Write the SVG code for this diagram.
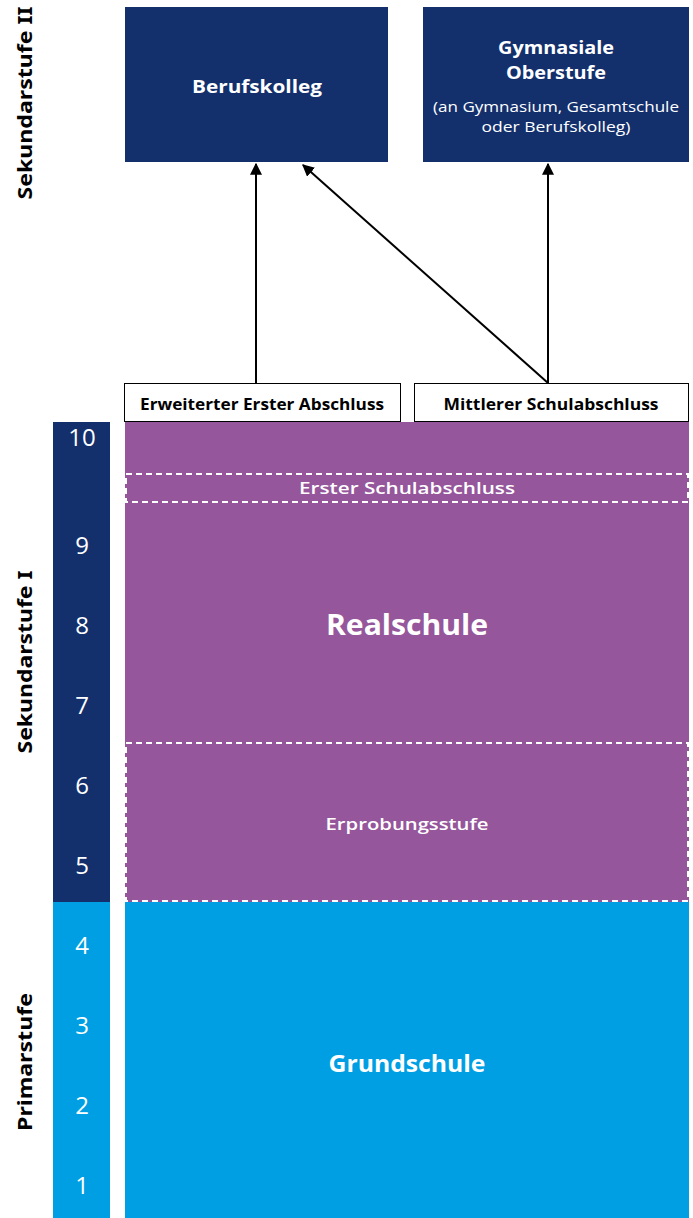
<svg xmlns="http://www.w3.org/2000/svg" width="693" height="1218" viewBox="0 0 693 1218">
<style>
.navy{fill:#13306d}
.purple{fill:#95569b}
.blue{fill:#009fe3}
.t{font-family:"Open Sans","Noto Sans","Liberation Sans",sans-serif;fill:#fff;text-anchor:middle}
.k{fill:#000}
.b{font-weight:bold}
.m{font-weight:600}
.num{font-family:"Open Sans","Liberation Sans",sans-serif;fill:#fff;font-size:24px;font-weight:400;text-anchor:middle}
.side{font-family:"Noto Sans","Liberation Sans",sans-serif;font-weight:bold;font-size:20px;fill:#000;text-anchor:middle}
.dash{fill:none;stroke:#fff;stroke-width:2;stroke-dasharray:6 4}
.abs{fill:#fff;stroke:#000;stroke-width:1}
.conn{stroke:#000;stroke-width:2;fill:none;marker-end:url(#ah)}
</style>
<defs>
<marker id="ah" viewBox="0 0 10 10" refX="9" refY="5" markerWidth="6" markerHeight="6" markerUnits="strokeWidth" orient="auto">
<path d="M0,0 L10,5 L0,10 z" fill="#000"/>
</marker>
</defs>
<g id="side-labels">
<text class="side" transform="translate(32,103) rotate(-90)" textLength="193" lengthAdjust="spacingAndGlyphs">Sekundarstufe II</text>
<text class="side" transform="translate(32,662) rotate(-90)" textLength="183" lengthAdjust="spacingAndGlyphs">Sekundarstufe I</text>
<text class="side" transform="translate(32,1062) rotate(-90)" textLength="138" lengthAdjust="spacingAndGlyphs">Primarstufe</text>
</g>
<g id="grade-bar">
<rect class="navy" x="53" y="422" width="57" height="480"/>
<rect class="blue" x="53" y="902" width="57" height="316"/>
<text class="num" x="82" y="446">10</text>
<text class="num" x="82" y="554">9</text>
<text class="num" x="82" y="634">8</text>
<text class="num" x="82" y="714">7</text>
<text class="num" x="82" y="794">6</text>
<text class="num" x="82" y="874">5</text>
<text class="num" x="82" y="954">4</text>
<text class="num" x="82" y="1034">3</text>
<text class="num" x="82" y="1114">2</text>
<text class="num" x="82" y="1194">1</text>
</g>
<g id="berufskolleg">
<rect class="navy" x="125" y="7" width="263" height="155"/>
<text class="t b" x="257" y="93" font-size="18" textLength="130" lengthAdjust="spacingAndGlyphs">Berufskolleg</text>
</g>
<g id="gymnasiale-oberstufe">
<rect class="navy" x="423" y="7" width="266" height="155"/>
<text class="t b" x="556" y="54" font-size="18" textLength="116" lengthAdjust="spacingAndGlyphs">Gymnasiale</text>
<text class="t b" x="556" y="79" font-size="18" textLength="100" lengthAdjust="spacingAndGlyphs">Oberstufe</text>
<text class="t" x="556" y="112" font-size="15" textLength="246" lengthAdjust="spacingAndGlyphs">(an Gymnasium, Gesamtschule</text>
<text class="t" x="556" y="132" font-size="15" textLength="149" lengthAdjust="spacingAndGlyphs">oder Berufskolleg)</text>
</g>
<g id="realschule">
<rect class="purple" x="125" y="422" width="564" height="480"/>
<text class="t b" x="407" y="635" font-size="28" textLength="162" lengthAdjust="spacingAndGlyphs">Realschule</text>
</g>
<g id="erster-schulabschluss">
<rect class="dash" x="126" y="474" width="562" height="28"/>
<text class="t m" x="407" y="494" font-size="17" textLength="216" lengthAdjust="spacingAndGlyphs">Erster Schulabschluss</text>
</g>
<g id="erprobungsstufe">
<rect class="dash" x="126" y="743" width="562" height="158"/>
<text class="t m" x="407" y="830" font-size="17" textLength="163" lengthAdjust="spacingAndGlyphs">Erprobungsstufe</text>
</g>
<g id="grundschule">
<rect class="blue" x="125" y="902" width="564" height="316"/>
<text class="t b" x="407" y="1072" font-size="23" textLength="157" lengthAdjust="spacingAndGlyphs">Grundschule</text>
</g>
<g id="erweiterter-erster-abschluss">
<rect class="abs" x="124.5" y="383.5" width="276" height="38"/>
<text class="t b k" x="262" y="410" font-size="16" textLength="244" lengthAdjust="spacingAndGlyphs">Erweiterter Erster Abschluss</text>
</g>
<g id="mittlerer-schulabschluss">
<rect class="abs" x="414.5" y="383.5" width="274" height="38"/>
<text class="t b k" x="551" y="410" font-size="16" textLength="215" lengthAdjust="spacingAndGlyphs">Mittlerer Schulabschluss</text>
</g>
<g id="connectors">
<line class="conn" x1="256" y1="383" x2="256" y2="164"/>
<line class="conn" x1="548" y1="383" x2="548" y2="164"/>
<line class="conn" x1="548" y1="383" x2="303" y2="165"/>
</g>
</svg>
